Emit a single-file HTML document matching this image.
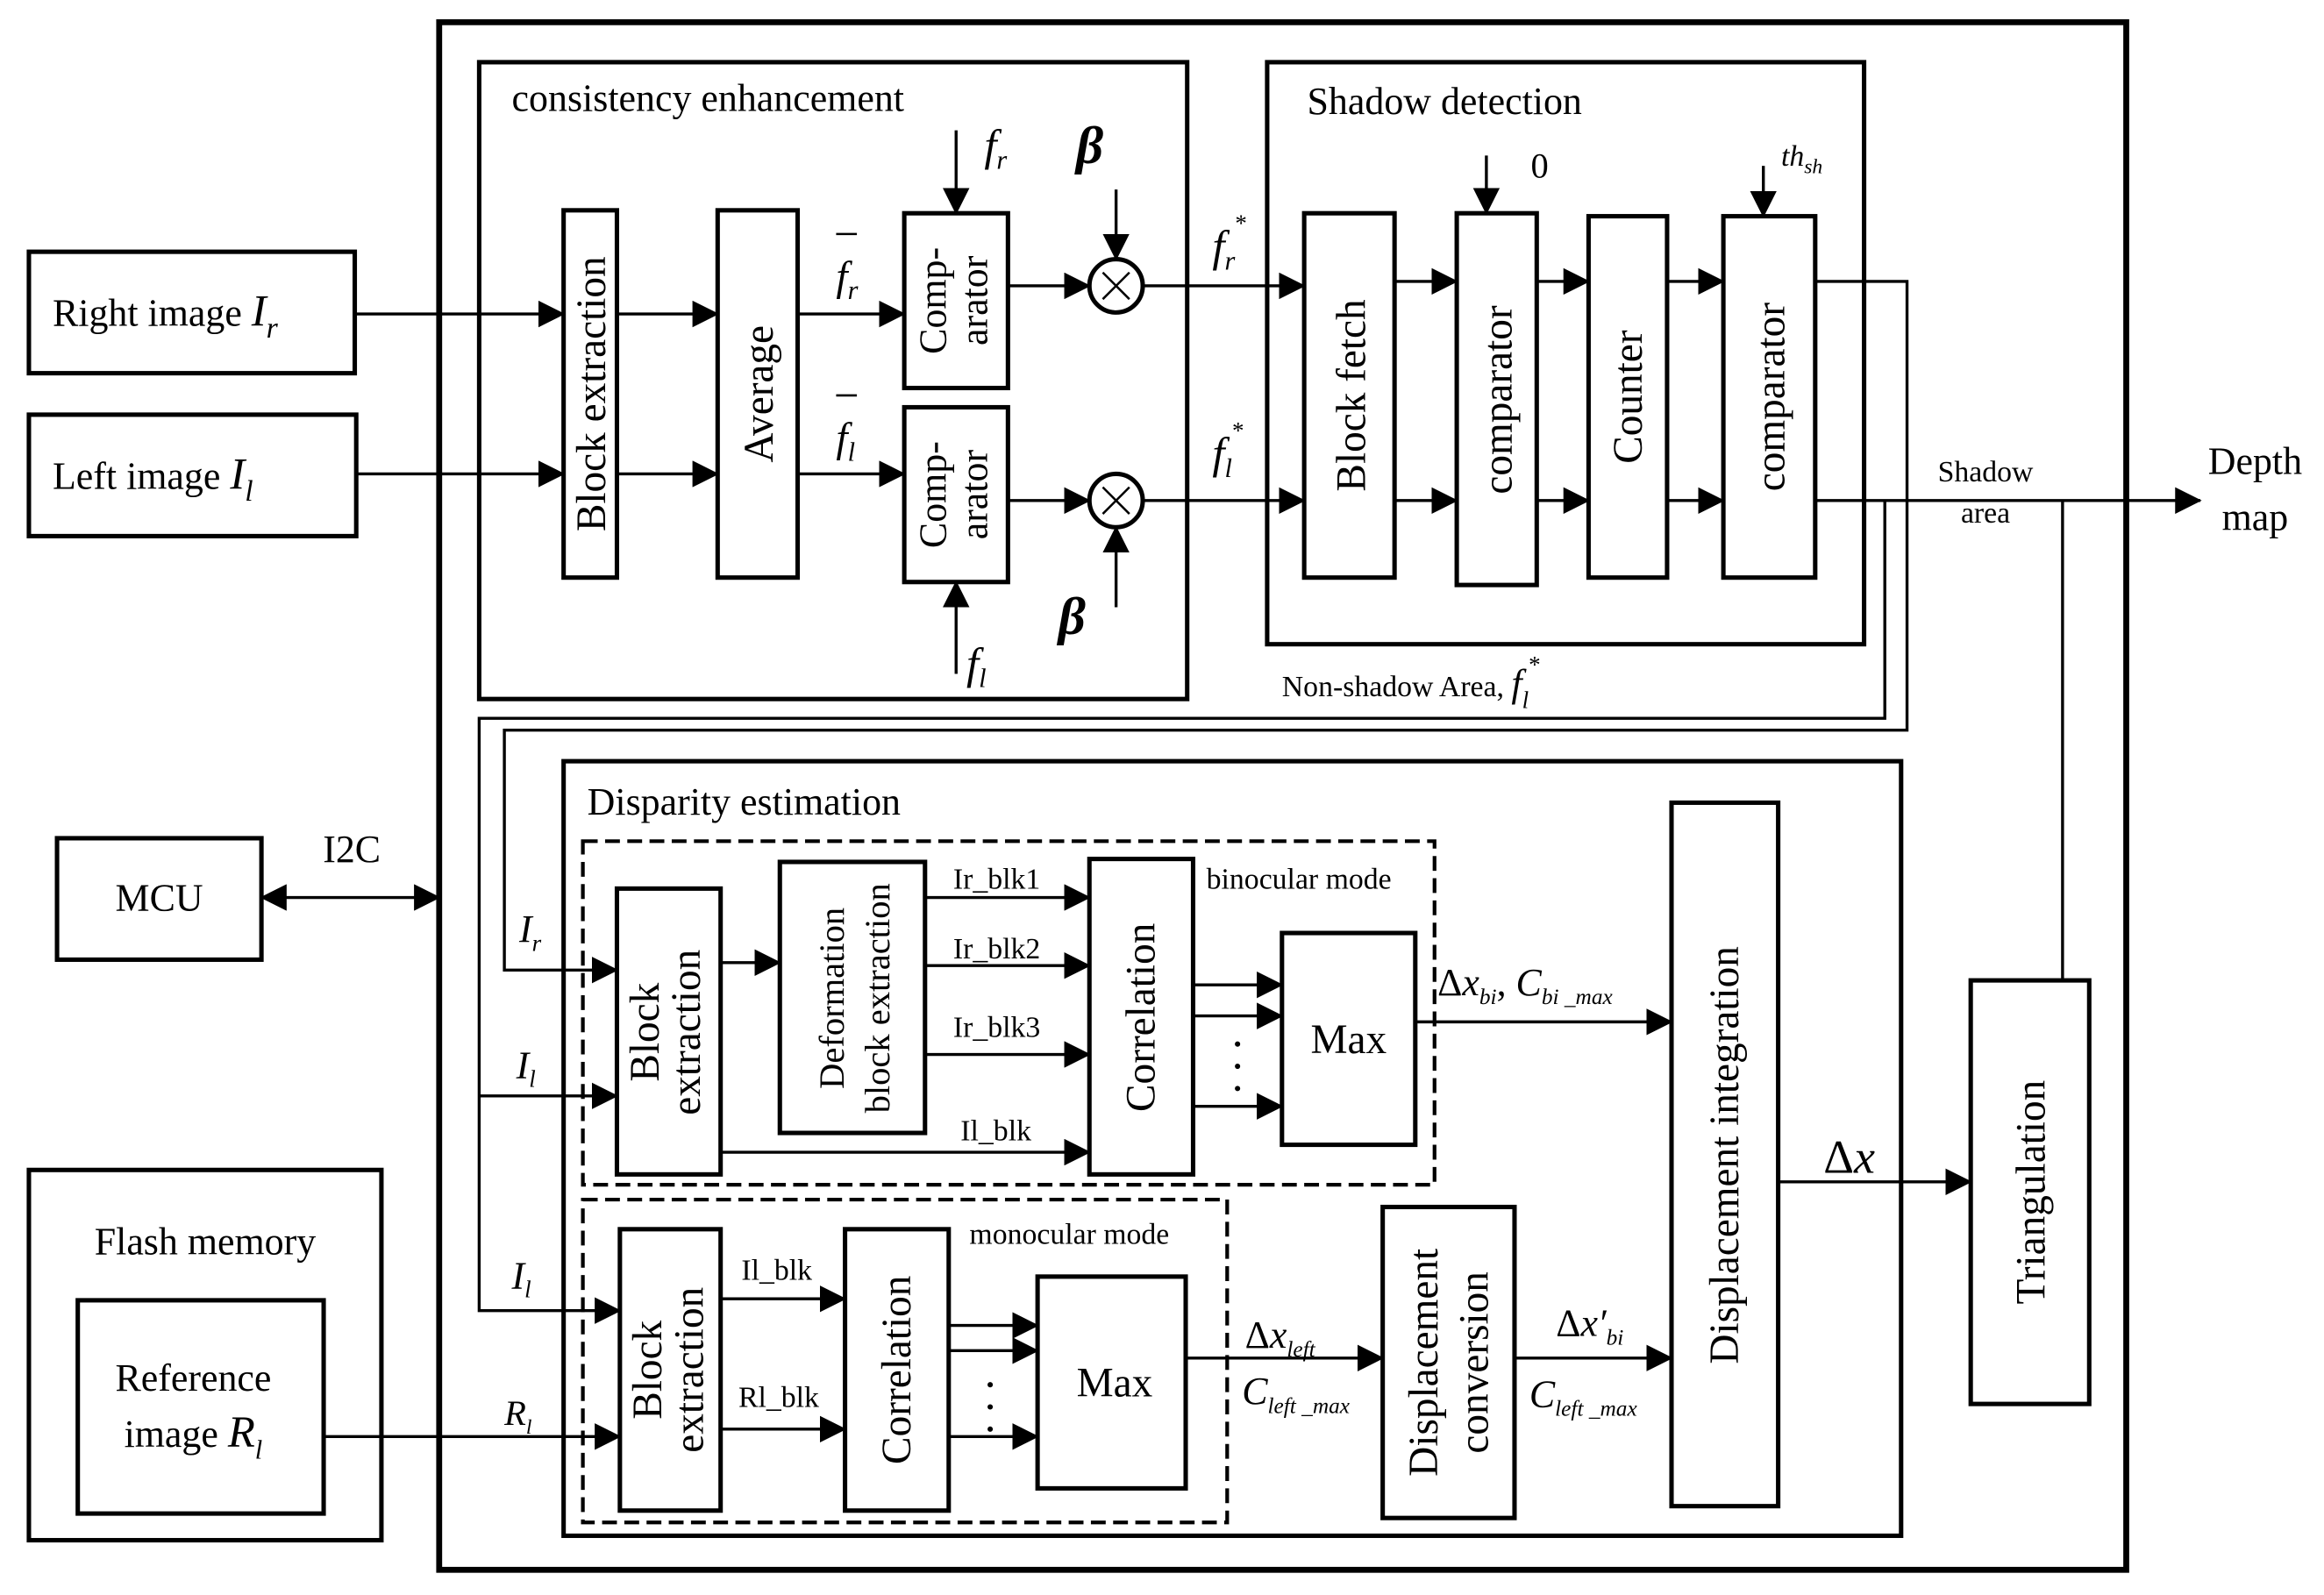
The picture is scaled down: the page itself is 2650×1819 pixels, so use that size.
<!DOCTYPE html>
<html><head><meta charset="utf-8"><style>html,body{margin:0;padding:0;background:#fff}svg{display:block}</style></head><body>
<svg width="2650" height="1819" viewBox="0 0 1568 1077" xmlns="http://www.w3.org/2000/svg" font-family="Liberation Serif, serif" fill="none" stroke="#000">
<defs><marker id="a" markerWidth="10" markerHeight="10" refX="9" refY="5" orient="auto" markerUnits="userSpaceOnUse" viewBox="0 0 10 10"><path d="M0,0 L10,5 L0,10z" fill="#000" stroke="none"/></marker>
<marker id="a2" markerWidth="18" markerHeight="18" refX="17" refY="9" orient="auto-start-reverse" markerUnits="userSpaceOnUse" viewBox="0 0 18 18"><path d="M0,0 L18,9 L0,18z" fill="#000" stroke="none"/></marker></defs>
<style>.t{fill:#000;stroke:none}.b{stroke-width:3}.l{stroke-width:2}</style>
<g stroke-width="4"><rect x="296" y="15" width="1139" height="1045"/></g>
<g class="b">
<rect x="19" y="170" width="220" height="82"/><rect x="19" y="280" width="221" height="82"/>
<rect x="38" y="566" width="138" height="82"/><rect x="19" y="790" width="238" height="250"/><rect x="52" y="878" width="166" height="144"/>
<rect x="323" y="42" width="478" height="430"/>
<rect x="380" y="142" width="36" height="248"/><rect x="484" y="142" width="54" height="248"/>
<rect x="610" y="144" width="70" height="118"/><rect x="610" y="275" width="70" height="118"/>
<rect x="855" y="42" width="403" height="393"/>
<rect x="880" y="144" width="61" height="246"/><rect x="983" y="144" width="54" height="251"/><rect x="1072" y="146" width="53" height="244"/><rect x="1163" y="146" width="62" height="244"/>
<rect x="380" y="514" width="903" height="523"/>
<rect x="416" y="600" width="70" height="193"/><rect x="526" y="582" width="98" height="183"/><rect x="735" y="580" width="70" height="213"/><rect x="865" y="630" width="90" height="143"/>
<rect x="1128" y="542" width="72" height="475"/><rect x="1330" y="662" width="80" height="286"/>
<rect x="418" y="830" width="68" height="190"/><rect x="570" y="830" width="70" height="190"/><rect x="700" y="862" width="100" height="143"/>
<rect x="933" y="815" width="89" height="210"/>
<circle cx="753" cy="193" r="18"/><circle cx="753" cy="338" r="18"/>
</g>
<g stroke-width="2.5" stroke-dasharray="10,5"><rect x="393" y="568" width="575" height="232"/><rect x="393" y="810" width="435" height="218"/></g>
<path d="M744,184l18,18M762,184l-18,18M744,329l18,18M762,329l-18,18" stroke-width="1.5"/>
<g class="l" marker-end="url(#a2)">
<path d="M239,212H380"/><path d="M240,320H380"/>
<path d="M416,212H484"/><path d="M416,320H484"/>
<path d="M538,212H610"/><path d="M538,320H610"/>
<path d="M645,88V144"/><path d="M645,455V393"/>
<path d="M680,193H735"/><path d="M680,338H735"/>
<path d="M753,128V175"/><path d="M753,410V356"/>
<path d="M771,193H880"/><path d="M771,338H880"/>
<path d="M941,190H983"/><path d="M941,338H983"/><path d="M1037,190H1072"/><path d="M1037,338H1072"/><path d="M1125,190H1163"/><path d="M1125,338H1163"/>
<path d="M1003,105V144"/><path d="M1190,112V146"/>
<path d="M1225,338H1485"/>
<path d="M1225,190H1287V493H340V655H416"/>
<path d="M1272,338V485H323V885H418"/>
<path d="M323,740H416"/>
<path d="M486,650H526"/>
<path d="M624,606H735"/><path d="M624,652H735"/><path d="M624,712H735"/><path d="M486,778H735"/>
<path d="M805,665H865"/><path d="M805,686H865"/><path d="M805,747H865"/>
<path d="M955,690H1128"/><path d="M1200,798H1330"/>
<path d="M486,877H570"/><path d="M486,965H570"/>
<path d="M640,895H700"/><path d="M640,912H700"/><path d="M640,970H700"/>
<path d="M800,917H933"/><path d="M1022,917H1128"/>
<path d="M218,970H418"/>
</g>
<path d="M1392,338V662" class="l"/>
<path d="M176,606H296" class="l" marker-start="url(#a2)" marker-end="url(#a2)"/>
<g class="t" font-size="26">
<text x="35" y="220">Right  image <tspan font-style="italic" font-size="30">I</tspan><tspan font-style="italic" font-size="20" dy="8">r</tspan></text>
<text x="35" y="330">Left  image  <tspan font-style="italic" font-size="30">I</tspan><tspan font-style="italic" font-size="20" dy="8">l</tspan></text>
<text x="107" y="615" text-anchor="middle">MCU</text>
<text x="237" y="582" text-anchor="middle">I2C</text>
<text x="138" y="847" text-anchor="middle">Flash memory</text>
<text x="130" y="939" text-anchor="middle">Reference</text>
<text x="130" y="977" text-anchor="middle">image <tspan font-style="italic" font-size="30">R</tspan><tspan font-style="italic" font-size="18" dy="8">l</tspan></text>
<text x="345" y="75">consistency enhancement</text>
<text x="882" y="77">Shadow detection</text>
<text x="396" y="550">Disparity estimation</text>
<text x="1522" y="320" text-anchor="middle">Depth</text>
<text x="1522" y="358" text-anchor="middle">map</text>
<text x="1248" y="792" font-size="32" text-anchor="middle">Δ<tspan font-style="italic">x</tspan></text>
</g>
<g class="t" font-size="20">
<text x="1340" y="325" text-anchor="middle">Shadow</text><text x="1340" y="353" text-anchor="middle">area</text>
<text x="865" y="470">Non-shadow Area,  <tspan font-style="italic" font-size="26">f</tspan><tspan font-style="italic" font-size="16" dy="8">l</tspan><tspan font-size="16" dy="-24">*</tspan></text>
<text x="814" y="600">binocular mode</text><text x="654" y="840">monocular mode</text>
<text x="643" y="600">Ir_blk1</text><text x="643" y="647">Ir_blk2</text><text x="643" y="700">Ir_blk3</text><text x="648" y="770">Il_blk</text>
<text x="500" y="864">Il_blk</text><text x="498" y="950">Rl_blk</text>
<text x="1033" y="120" font-size="24">0</text>
</g>
<g class="t" font-style="italic">
<text x="664" y="108" font-size="30">f<tspan font-size="18" dy="6">r</tspan></text>
<text x="652" y="458" font-size="30">f<tspan font-size="18" dy="6">l</tspan></text>
<text x="726" y="110" font-size="36" font-weight="bold">β</text>
<text x="714" y="428" font-size="36" font-weight="bold">β</text>
<text x="564" y="196" font-size="28">f<tspan font-size="18" dy="6">r</tspan></text>
<text x="564" y="305" font-size="28">f<tspan font-size="18" dy="6">l</tspan></text>
<text x="818" y="176" font-size="30">f<tspan font-size="18" dy="6">r</tspan><tspan font-size="16" font-style="normal" dy="-26">*</tspan></text>
<text x="818" y="316" font-size="30">f<tspan font-size="18" dy="6">l</tspan><tspan font-size="16" font-style="normal" dy="-26">*</tspan></text>
<text x="1202" y="112" font-size="20">th<tspan font-size="14" dy="5">sh</tspan></text>
<text x="350" y="636" font-size="26">I<tspan font-size="16" dy="6">r</tspan></text>
<text x="348" y="728" font-size="26">I<tspan font-size="16" dy="6">l</tspan></text>
<text x="345" y="870" font-size="26">I<tspan font-size="16" dy="6">l</tspan></text>
<text x="340" y="962" font-size="24">R<tspan font-size="14" dy="6">l</tspan></text>
<text x="970" y="672" font-size="26"><tspan font-style="normal">Δ</tspan>x<tspan font-size="15" dy="6">bi</tspan><tspan dy="-6" font-style="normal">, </tspan>C<tspan font-size="15" dy="6">bi _max</tspan></text>
<text x="840" y="910" font-size="26"><tspan font-style="normal">Δ</tspan>x<tspan font-size="15" dy="6">left</tspan></text>
<text x="838" y="948" font-size="26">C<tspan font-size="15" dy="6">left _max</tspan></text>
<text x="1050" y="902" font-size="26"><tspan font-style="normal">Δ</tspan>x′<tspan font-size="15" dy="6">bi</tspan></text>
<text x="1032" y="950" font-size="26">C<tspan font-size="15" dy="6">left _max</tspan></text>
</g>
<g class="t" font-size="28">
<text transform="translate(408,266) rotate(-90)" text-anchor="middle">Block extraction</text>
<text transform="translate(521,266) rotate(-90)" text-anchor="middle">Average</text>
<text transform="translate(638,203) rotate(-90)" text-anchor="middle" font-size="26">Comp-</text>
<text transform="translate(666,203) rotate(-90)" text-anchor="middle" font-size="26">arator</text>
<text transform="translate(638,334) rotate(-90)" text-anchor="middle" font-size="26">Comp-</text>
<text transform="translate(666,334) rotate(-90)" text-anchor="middle" font-size="26">arator</text>
<text transform="translate(921,267) rotate(-90)" text-anchor="middle">Block fetch</text>
<text transform="translate(1020,270) rotate(-90)" text-anchor="middle">comparator</text>
<text transform="translate(1108,268) rotate(-90)" text-anchor="middle">Counter</text>
<text transform="translate(1204,268) rotate(-90)" text-anchor="middle">comparator</text>
<text transform="translate(444,697) rotate(-90)" text-anchor="middle">Block</text>
<text transform="translate(472,697) rotate(-90)" text-anchor="middle">extraction</text>
<text transform="translate(569,674) rotate(-90)" text-anchor="middle" font-size="24">Deformation</text>
<text transform="translate(600,674) rotate(-90)" text-anchor="middle" font-size="24">block extraction</text>
<text transform="translate(779,687) rotate(-90)" text-anchor="middle">Correlation</text>
<text x="910" y="711" text-anchor="middle">Max</text>
<text transform="translate(1173,780) rotate(-90)" text-anchor="middle">Displacement integration</text>
<text transform="translate(1380,805) rotate(-90)" text-anchor="middle">Triangulation</text>
<text transform="translate(446,925) rotate(-90)" text-anchor="middle">Block</text>
<text transform="translate(474,925) rotate(-90)" text-anchor="middle">extraction</text>
<text transform="translate(614,925) rotate(-90)" text-anchor="middle">Correlation</text>
<text x="752" y="943" text-anchor="middle">Max</text>
<text transform="translate(970,920) rotate(-90)" text-anchor="middle">Displacement</text>
<text transform="translate(1004,920) rotate(-90)" text-anchor="middle">conversion</text>
</g>
<g class="t"><circle cx="835" cy="705" r="1.8"/><circle cx="835" cy="720" r="1.8"/><circle cx="835" cy="735" r="1.8"/>
<circle cx="668" cy="935" r="1.8"/><circle cx="668" cy="950" r="1.8"/><circle cx="668" cy="965" r="1.8"/></g>
<path d="M564,158h14M564,267h14" stroke-width="1.5"/>
</svg>
</body></html>
